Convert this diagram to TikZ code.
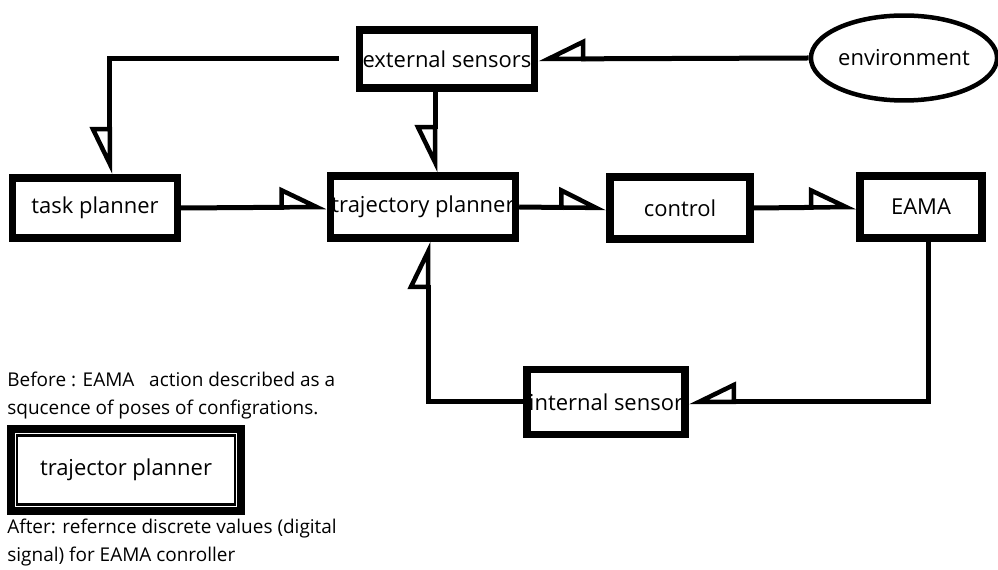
\documentclass[tikz,border=0pt]{standalone}
\usepackage{fontspec}
\setmainfont{Open Sans}
\usetikzlibrary{arrows.meta,shapes.geometric}

\begin{document}
\begin{tikzpicture}[x=0.02cm, y=-0.02cm,
    box/.style = {draw, line width=0.15cm, inner sep=0pt, font=\fontsize{12.5}{15}\selectfont},
    flow/.style = {line width=0.1cm, line join=miter, -{Triangle[open, harpoon, length=0.85cm, width=0.8cm, line width=0.09cm]}},
    flowr/.style = {line width=0.1cm, line join=miter, -{Triangle[open, harpoon, swap, length=0.85cm, width=0.8cm, line width=0.09cm]}},
    note/.style = {anchor=north west, align=left, inner sep=0pt, font=\fontsize{10.8}{16}\selectfont}]

    \path[fill=white, use as bounding box] (0,0) rectangle (998,570);

    % Nodes
    \node[box, minimum width=3.5cm, minimum height=1.16cm] (es) at (447,59) {external sensors};
    \node[box, ellipse, line width=0.09cm, minimum width=3.6cm, minimum height=1.7cm] (env) at (904,58) {environment};
    \node[box, minimum width=3.3cm, minimum height=1.2cm] (task) at (95,208) {task planner};
    \node[box, minimum width=3.7cm, minimum height=1.24cm] (traj) at (423,207) {trajectory planner};
    \node[box, minimum width=2.8cm, minimum height=1.24cm] (ctrl) at (680,208) {control};
    \node[box, minimum width=2.44cm, minimum height=1.24cm] (eama) at (921,207) {EAMA};
    \node[box, minimum width=3.16cm, minimum height=1.3cm] (isens) at (606,402) {internal sensor};

    \node[note] (before) at (7,372) {Before : EAMA \ \ action described as a\\squcence of poses of configrations.};
    \node[box, line width=0.16cm, minimum width=4.62cm, minimum height=1.64cm] (legend) at (126,470) {trajector planner};
    \draw[line width=0.05cm] ([shift={(0.21cm,-0.21cm)}]legend.north west) rectangle ([shift={(-0.21cm,0.21cm)}]legend.south east);
    \node[note] (after) at (7,519) {After: refernce discrete values (digital\\signal) for EAMA conroller};

    % Edges
    \draw[flowr] (env.west) -- (es.east);
    \draw[flowr, shorten <=0.34cm] (es.west) -| ([xshift=0.3cm]task.north);
    \draw[flowr] ([xshift=-0.24cm]es.south) -- ([xshift=-0.24cm]es.south |- traj.north);
    \draw[flow] (task.east) -- (traj.west);
    \draw[flow] (traj.east) -- (ctrl.west);
    \draw[flow] (ctrl.east) -- (eama.west);
    \draw[flowr] ([xshift=0.14cm]eama.south) |- (isens.east);
    \draw[flow] (isens.west) -| ([xshift=0.1cm]traj.south);

\end{tikzpicture}
\end{document}
